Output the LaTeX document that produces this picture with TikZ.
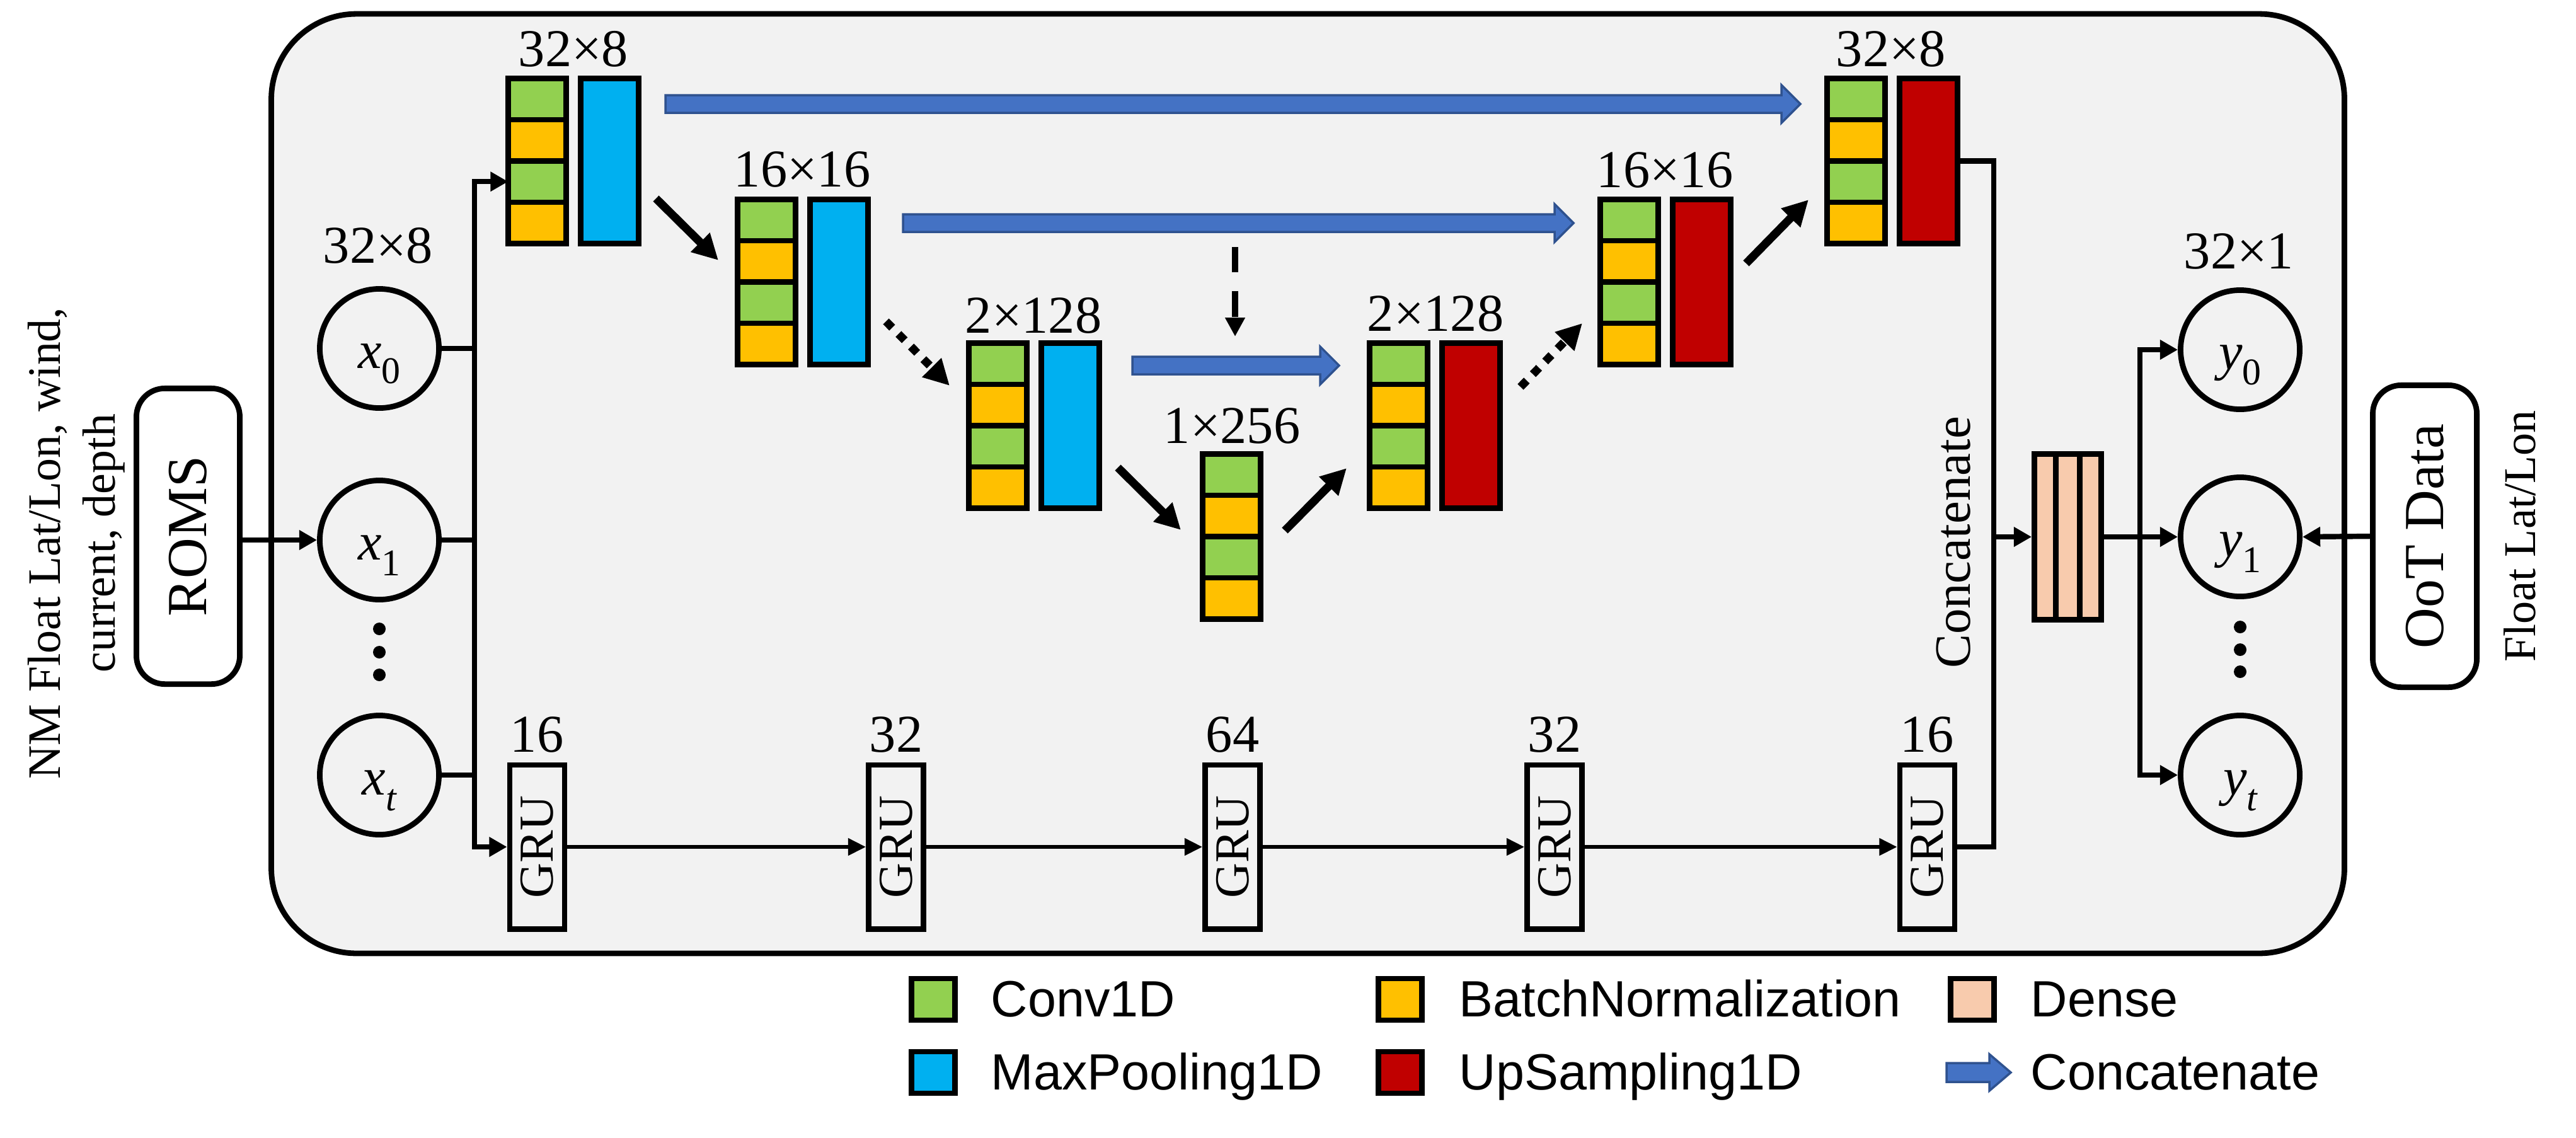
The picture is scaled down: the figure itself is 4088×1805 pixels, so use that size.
\documentclass[tikz,border=0pt]{standalone}
\usepackage{fontspec}
\setmainfont{Liberation Serif}
\newfontfamily\arialf{Liberation Sans}
\usetikzlibrary{arrows.meta,calc}
\definecolor{cgreen}{HTML}{92D050}
\definecolor{cyel}{HTML}{FFC000}
\definecolor{cblue}{HTML}{00B0F0}
\definecolor{cred}{HTML}{C00000}
\definecolor{cpeach}{HTML}{F8CBAD}
\definecolor{ablue}{HTML}{4472C4}
\definecolor{aedge}{HTML}{2F528F}
\definecolor{bgray}{HTML}{F2F2F2}
\newcommand{\fs}[2]{\fontsize{#1}{#2}\selectfont}
\newcommand{\vlab}[2]{\rule{0pt}{25pt}{\fs{24}{28}\itshape #1}\raisebox{-7pt}{\fs{17}{20}#2}}
\newcommand{\convcol}[3]{%
  \node[cell,fill=cgreen] (#1c1) at (#2+4.4,#3+4.4) {};
  \node[cell,fill=cyel] (#1c2) at (#2+4.4,#3+69.9) {};
  \node[cell,fill=cgreen] (#1c3) at (#2+4.4,#3+135.4) {};
  \node[cell,fill=cyel] (#1c4) at (#2+4.4,#3+200.9) {};
}
\newcommand{\poolcol}[4]{%
  \node[cell,fill=#4,minimum height=2.62cm] (#1p) at (#2+119.4,#3+4.4) {};
}
\newcommand{\concatarr}[2]{%
  \draw[line width=1pt,draw=aedge,fill=ablue,line join=miter]
  ($(#1)+(0,-14)$) -- ($(#2)+(-30,-14)$) -- ($(#2)+(-30,-30)$) -- (#2) --
  ($(#2)+(-30,30)$) -- ($(#2)+(-30,14)$) -- ($(#1)+(0,14)$) -- cycle;
}
\tikzset{
  cell/.style={draw=black,line width=2.5pt,minimum width=0.92cm,minimum height=0.655cm,inner sep=0,outer sep=0,anchor=north west},
  circ/.style={draw=black,line width=2.5pt,circle,minimum size=1.89cm,inner sep=0},
  grubox/.style={draw=black,line width=2.5pt,fill=bgray,minimum width=0.87cm,minimum height=2.6cm,inner sep=0,font=\fs{22}{26}},
  rbox/.style={draw=black,line width=2.5pt,fill=white,rounded corners=0.45cm,inner sep=0,font=\fs{25.5}{30}},
  lab/.style={font=\fs{24}{28},anchor=base,inner sep=0},
  conn/.style={line width=2.4pt},
  arr/.style={conn,line join=miter,-{Triangle[length=8pt,width=8.5pt]}},
  garr/.style={line width=1.7pt,-{Triangle[length=8pt,width=7.5pt]}},
  bigarr/.style={line width=3.7pt,-{Triangle[length=11.5pt,width=11.5pt]}},
  dotarr/.style={bigarr,dash pattern=on 4pt off 4pt},
  dasharr/.style={line width=2.8pt,dash pattern=on 11.5pt off 8.5pt,-{Triangle[length=8.5pt,width=8.5pt]}},
  lsq/.style={draw=black,line width=2.5pt,minimum width=0.69cm,minimum height=0.66cm,inner sep=0},
  ltxt/.style={font=\arialf\fs{23}{27},anchor=base west,inner sep=0},
}
\begin{document}
\begin{tikzpicture}[x=0.01cm,y=-0.01cm]
\useasboundingbox (0,0) rectangle (4088,1805);

% main frame
\node[draw=black,line width=2.5pt,fill=bgray,rounded corners=1.35cm,minimum width=32.88cm,minimum height=14.9cm,inner sep=0] (frame) at (2075.5,767.5) {};

% side texts and boxes
\node[rotate=90,align=center,font=\fs{21}{24.75},inner sep=0] (intext) at (121,862) {NM Float Lat/Lon, wind,\\current, depth};
\node[rbox,minimum width=1.64cm,minimum height=4.69cm] (roms) at (298.5,851) {\rotatebox{90}{ROMS}};
\node[rbox,minimum width=1.65cm,minimum height=4.79cm] (oot) at (3848,851) {\rotatebox{90}{OoT Data}};
\node[rotate=90,font=\fs{20.5}{24},inner sep=0] (outtext) at (3999,851) {Float Lat/Lon};
\node[rotate=90,font=\fs{23}{27},inner sep=0] (cattext) at (3100,861) {Concatenate};

% input circles
\node[circ] (x0) at (602,553) {\vlab{x}{0}};
\node[circ] (x1) at (602,857) {\vlab{x}{1}};
\node[circ] (xt) at (602,1230) {\vlab{x}{\itshape t}};
\node[lab] (xlab) at (600,417) {32×8};
\foreach \yy in {998,1035,1071} \fill (602,\yy) circle[radius=0.1cm];

% output circles
\node[circ] (y0) at (3555,555) {\vlab{y}{0}};
\node[circ] (y1) at (3555,852) {\vlab{y}{1}};
\node[circ] (yt) at (3555,1230) {\vlab{y}{\itshape t}};
\node[lab] (ylab) at (3553,426) {32×1};
\foreach \yy in {995,1031,1066} \fill (3555,\yy) circle[radius=0.1cm];

% U-Net blocks
\convcol{e1}{802}{120}\poolcol{e1}{802}{120}{cblue}
\convcol{e2}{1166}{312}\poolcol{e2}{1166}{312}{cblue}
\convcol{e3}{1533}{540}\poolcol{e3}{1533}{540}{cblue}
\convcol{bn}{1904}{716}
\convcol{d4}{2169}{540}\poolcol{d4}{2169}{540}{cred}
\convcol{d5}{2535}{312}\poolcol{d5}{2535}{312}{cred}
\convcol{d6}{2895}{120}\poolcol{d6}{2895}{120}{cred}

\node[lab] (le1) at (910,105) {32×8};
\node[lab] (le2) at (1273,296) {16×16};
\node[lab] (le3) at (1640,528) {2×128};
\node[lab] (lbn) at (1955,703) {1×256};
\node[lab] (ld4) at (2278,525) {2×128};
\node[lab] (ld5) at (2642,297) {16×16};
\node[lab] (ld6) at (3001,105) {32×8};

% concatenate (skip) arrows
\coordinate (c1s) at (1056,165); \coordinate (c1e) at (2857,165);
\coordinate (c2s) at (1433,354); \coordinate (c2e) at (2497,354);
\coordinate (c3s) at (1797,580); \coordinate (c3e) at (2125,580);
\concatarr{c1s}{c1e}
\concatarr{c2s}{c2e}
\concatarr{c3s}{c3e}
\coordinate (dks) at (1960,392); \coordinate (dke) at (1960,534);
\draw[dasharr] (dks) -- (dke);

% block-to-block arrows
\coordinate (a1s) at (1041,315); \coordinate (a1e) at (1140,413);
\coordinate (a2s) at (1406,510); \coordinate (a2e) at (1507,612);
\coordinate (a3s) at (1774,742); \coordinate (a3e) at (1874,841);
\coordinate (a4s) at (2039,842); \coordinate (a4e) at (2137,743);
\coordinate (a5s) at (2413,614); \coordinate (a5e) at (2511,513);
\coordinate (a6s) at (2771,418); \coordinate (a6e) at (2870,317);
\draw[bigarr] (a1s) -- (a1e);
\draw[dotarr] (a2s) -- (a2e);
\draw[bigarr] (a3s) -- (a3e);
\draw[bigarr] (a4s) -- (a4e);
\draw[dotarr] (a5s) -- (a5e);
\draw[bigarr] (a6s) -- (a6e);

% GRU chain
\node[grubox] (g1) at (852.5,1344) {\rotatebox{90}{GRU}};
\node[grubox] (g2) at (1422,1344) {\rotatebox{90}{GRU}};
\node[grubox] (g3) at (1956,1344) {\rotatebox{90}{GRU}};
\node[grubox] (g4) at (2467,1344) {\rotatebox{90}{GRU}};
\node[grubox] (g5) at (3058.5,1344) {\rotatebox{90}{GRU}};
\node[lab] (lg1) at (852,1193) {16};
\node[lab] (lg2) at (1422,1193) {32};
\node[lab] (lg3) at (1956,1193) {64};
\node[lab] (lg4) at (2467,1193) {32};
\node[lab] (lg5) at (3058,1193) {16};
\draw[garr] (g1.east) -- (g2.west);
\draw[garr] (g2.east) -- (g3.west);
\draw[garr] (g3.east) -- (g4.west);
\draw[garr] (g4.east) -- (g5.west);

% input side connectors
\coordinate (busx) at (753,0);
\draw[arr] (roms.east |- x1.west) -- (x1.west);
\draw[conn] (x0.east) -- (x0.east -| busx);
\draw[conn] (x1.east) -- (x1.east -| busx);
\draw[conn] (xt.east) -- (xt.east -| busx);
\draw[arr] (xt.east -| busx) -- (e1c3.west -| busx) -- (e1c3.west);
\draw[arr] (x0.east -| busx) -- (g1.west -| busx) -- (g1.west);

% dense
\node[draw=black,line width=2.5pt,fill=cpeach,minimum width=1.06cm,minimum height=2.63cm,inner sep=0] (dense) at (3281.5,852) {};
\draw[line width=2.5pt] ($(dense.north west)!0.3333!(dense.north east)$) -- ($(dense.south west)!0.3333!(dense.south east)$);
\draw[line width=2.5pt] ($(dense.north west)!0.6667!(dense.north east)$) -- ($(dense.south west)!0.6667!(dense.south east)$);

% output side connectors
\coordinate (rbx) at (3164,0);
\draw[conn,line join=miter] (d6p.east) -- (d6p.east -| rbx) -- (g5.east -| rbx) -- (g5.east);
\draw[arr] (dense.west -| rbx) -- (dense.west);
\draw[arr] (dense.east) -- (y1.west);
\coordinate (obx) at (3396,0);
\draw[arr] (yt.west -| obx) -- (y0.west -| obx) -- (y0.west);
\draw[arr] (y0.west -| obx) -- (yt.west -| obx) -- (yt.west);
\draw[arr] (oot.west) -- (y1.east);

% legend
\node[lsq,fill=cgreen] (k1) at (1481,1586) {};
\node[ltxt] (t1) at (1572,1613) {Conv1D};
\node[lsq,fill=cblue] (k2) at (1481,1702) {};
\node[ltxt] (t2) at (1572,1729) {MaxPooling1D};
\node[lsq,fill=cyel] (k3) at (2222,1586) {};
\node[ltxt] (t3) at (2315,1613) {BatchNormalization};
\node[lsq,fill=cred] (k4) at (2222,1702) {};
\node[ltxt] (t4) at (2315,1729) {UpSampling1D};
\node[lsq,fill=cpeach] (k5) at (3130,1586) {};
\node[ltxt] (t5) at (3222,1613) {Dense};
\coordinate (k6s) at (3089,1702); \coordinate (k6e) at (3191,1702);
\draw[line width=1pt,draw=aedge,fill=ablue,line join=miter]
  ($(k6s)+(0,-15)$) -- ($(k6e)+(-34,-15)$) -- ($(k6e)+(-34,-29)$) -- (k6e) --
  ($(k6e)+(-34,29)$) -- ($(k6e)+(-34,15)$) -- ($(k6s)+(0,15)$) -- cycle;
\node[ltxt] (t6) at (3222,1729) {Concatenate};
\end{tikzpicture}
\end{document}
